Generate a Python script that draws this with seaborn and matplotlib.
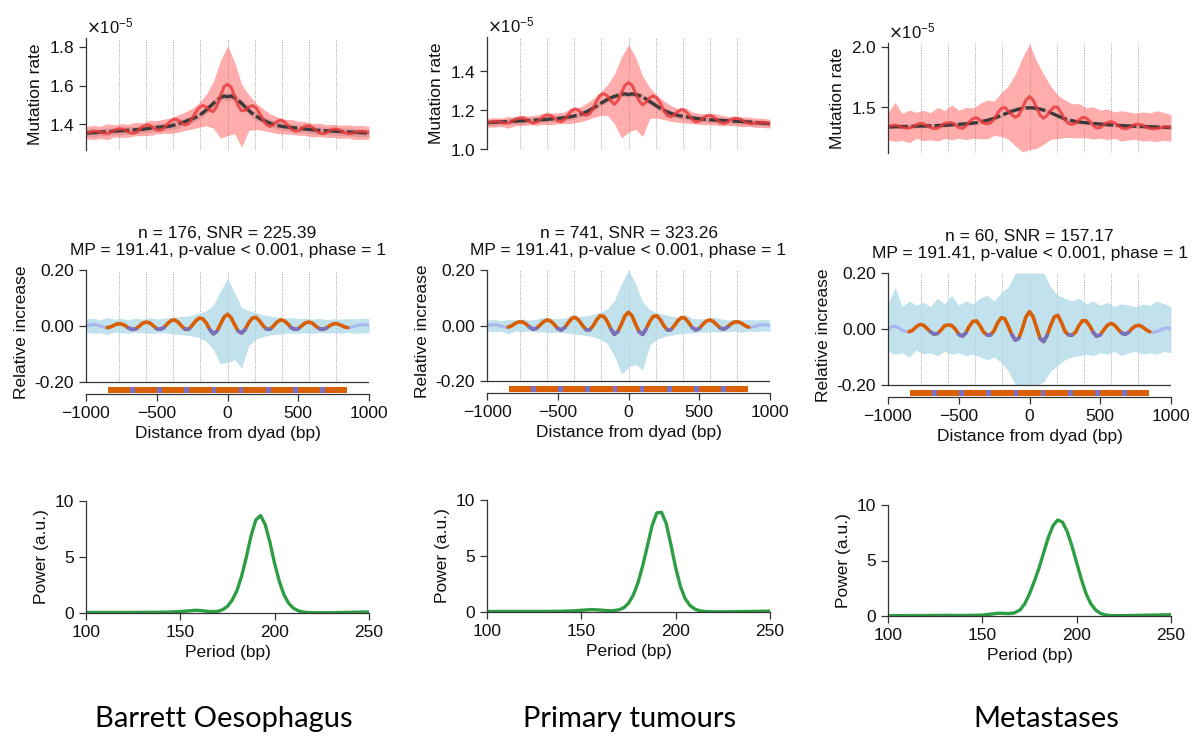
import numpy as np
import seaborn as sns
import matplotlib.pyplot as plt
from matplotlib.ticker import ScalarFormatter

# groups and stats shown in the titles
groups = ['Barrett Oesophagus', 'Primary tumours', 'Metastases']
n_samples = [176, 741, 60]
snr = [225.39, 323.26, 157.17]
mp = 191.41

# positions relative to the dyad (bp)
pos = np.arange(-1000, 1001, 25)
pos_noise = np.arange(-1000, 1001, 50)

# background (smoothed) mutation rate, x1e-5, on the 25 bp grid
bg_barrett = [1.355, 1.356, 1.357, 1.358, 1.360, 1.361, 1.362, 1.363, 1.365, 1.366,
              1.367, 1.368, 1.370, 1.371, 1.372, 1.373, 1.375, 1.377, 1.380, 1.382,
              1.385, 1.386, 1.388, 1.389, 1.392, 1.397, 1.402, 1.408, 1.414, 1.421,
              1.428, 1.436, 1.446, 1.459, 1.474, 1.491, 1.508, 1.524, 1.537, 1.546,
              1.542,
              1.546, 1.537, 1.524, 1.508, 1.490, 1.472, 1.456, 1.443, 1.432, 1.423,
              1.414, 1.406, 1.400, 1.395, 1.391, 1.388, 1.386, 1.384, 1.382, 1.380,
              1.378, 1.376, 1.374, 1.372, 1.370, 1.369, 1.368, 1.367, 1.366, 1.365,
              1.364, 1.363, 1.362, 1.361, 1.360, 1.359, 1.358, 1.357, 1.356, 1.355]
bg_primary = [1.135, 1.136, 1.137, 1.138, 1.139, 1.140, 1.141, 1.142, 1.143, 1.144,
              1.145, 1.146, 1.147, 1.148, 1.149, 1.150, 1.151, 1.152, 1.154, 1.155,
              1.157, 1.159, 1.161, 1.164, 1.167, 1.171, 1.176, 1.182, 1.190, 1.199,
              1.210, 1.221, 1.233, 1.243, 1.254, 1.263, 1.270, 1.276, 1.281, 1.283,
              1.279,
              1.283, 1.280, 1.275, 1.267, 1.256, 1.244, 1.232, 1.220, 1.209, 1.199,
              1.190, 1.183, 1.177, 1.172, 1.169, 1.166, 1.163, 1.160, 1.157, 1.155,
              1.153, 1.152, 1.150, 1.149, 1.148, 1.147, 1.146, 1.145, 1.144, 1.143,
              1.142, 1.141, 1.140, 1.139, 1.137, 1.136, 1.134, 1.133, 1.131, 1.130]
bg_metastases = [1.340, 1.340, 1.341, 1.342, 1.343, 1.343, 1.344, 1.345, 1.346, 1.347,
                 1.347, 1.348, 1.349, 1.350, 1.351, 1.352, 1.353, 1.355, 1.357, 1.359,
                 1.361, 1.363, 1.365, 1.368, 1.371, 1.375, 1.380, 1.387, 1.394, 1.402,
                 1.411, 1.422, 1.434, 1.446, 1.458, 1.469, 1.478, 1.486, 1.492, 1.496,
                 1.497,
                 1.496, 1.492, 1.486, 1.478, 1.468, 1.456, 1.443, 1.430, 1.418, 1.407,
                 1.398, 1.391, 1.385, 1.380, 1.377, 1.374, 1.371, 1.368, 1.366, 1.363,
                 1.361, 1.358, 1.356, 1.354, 1.352, 1.351, 1.349, 1.348, 1.347, 1.345,
                 1.344, 1.343, 1.342, 1.341, 1.340, 1.339, 1.338, 1.337, 1.336, 1.335]
bg_band = [0.02, 0.015, 0.015]

# smoothed relative increase, 25 bp grid
rel_barrett = [0.000, 0.003, 0.006, 0.004, 0.000, -0.004, -0.006, -0.003, 0.003, 0.008,
               0.007, 0.002, -0.007, -0.012, -0.011, -0.001, 0.010, 0.014, 0.011, 0.001,
               -0.010, -0.012, -0.006, 0.008, 0.019, 0.022, 0.014, 0.000, -0.012, -0.012,
               0.002, 0.018, 0.028, 0.026, 0.011, -0.013, -0.028, -0.019, 0.006, 0.031,
               0.042,
               0.030, 0.005, -0.018, -0.025, -0.012, 0.012, 0.028, 0.031, 0.019, 0.002,
               -0.011, -0.012, 0.000, 0.014, 0.022, 0.019, 0.008, -0.006, -0.012, -0.010,
               0.001, 0.011, 0.014, 0.010, -0.001, -0.010, -0.012, -0.007, 0.002, 0.008,
               0.008, 0.003, -0.003, -0.006, -0.005, -0.001, 0.003, 0.005, 0.004, 0.002]
rel_primary = [0.000, 0.002, 0.003, 0.002, -0.002, -0.006, -0.006, -0.001, 0.008, 0.013,
               0.013, 0.006, -0.005, -0.013, -0.010, 0.002, 0.014, 0.020, 0.016, 0.004,
               -0.011, -0.016, -0.007, 0.011, 0.026, 0.029, 0.018, 0.000, -0.015, -0.016,
               -0.001, 0.021, 0.035, 0.033, 0.015, -0.012, -0.032, -0.022, 0.005, 0.035,
               0.048,
               0.035, 0.005, -0.022, -0.032, -0.012, 0.015, 0.033, 0.035, 0.021, -0.001,
               -0.016, -0.015, 0.000, 0.018, 0.029, 0.026, 0.011, -0.007, -0.016, -0.011,
               0.004, 0.016, 0.020, 0.014, 0.002, -0.010, -0.013, -0.005, 0.006, 0.013,
               0.013, 0.008, -0.001, -0.006, -0.006, -0.002, 0.002, 0.003, 0.002, 0.000]
rel_metastases = [-0.003, 0.008, 0.010, 0.004, -0.004, -0.009, -0.010, -0.004, 0.008, 0.016,
                  0.014, 0.002, -0.010, -0.018, -0.016, -0.004, 0.012, 0.014, 0.013, 0.000,
                  -0.019, -0.026, -0.014, 0.010, 0.027, 0.029, 0.012, -0.011, -0.021, -0.021,
                  -0.006, 0.022, 0.040, 0.037, 0.010, -0.020, -0.040, -0.033, 0.002, 0.043,
                  0.062,
                  0.044, 0.005, -0.034, -0.045, -0.022, 0.014, 0.043, 0.049, 0.024, -0.008,
                  -0.021, -0.022, -0.012, 0.013, 0.030, 0.029, 0.012, -0.012, -0.026, -0.021,
                  -0.003, 0.013, 0.020, 0.014, 0.000, -0.014, -0.019, -0.012, 0.002, 0.011,
                  0.013, 0.007, -0.003, -0.010, -0.012, -0.009, -0.004, 0.002, 0.004, 0.000]

# envelope of the raw (noisy) relative increase, 50 bp grid
hi_barrett = [0.025, 0.028, 0.022, 0.030, 0.024, 0.027, 0.022, 0.028, 0.024, 0.030,
              0.025, 0.028, 0.030, 0.033, 0.035, 0.038, 0.045, 0.055, 0.075, 0.125,
              0.170,
              0.120, 0.065, 0.055, 0.048, 0.040, 0.035, 0.032, 0.028, 0.030,
              0.026, 0.028, 0.024, 0.027, 0.023, 0.026, 0.024, 0.027, 0.025, 0.028, 0.026]
lo_barrett = [-0.022, -0.026, -0.024, -0.030, -0.022, -0.025, -0.026, -0.022, -0.024, -0.027,
              -0.025, -0.024, -0.028, -0.030, -0.032, -0.036, -0.042, -0.055, -0.085, -0.135,
              -0.130,
              -0.120, -0.150, -0.070, -0.048, -0.038, -0.032, -0.030, -0.027, -0.025,
              -0.026, -0.024, -0.027, -0.023, -0.025, -0.024, -0.026, -0.023, -0.027, -0.025, -0.024]
hi_primary = [0.020, 0.022, 0.018, 0.022, 0.020, 0.024, 0.020, 0.022, 0.030, 0.026,
              0.024, 0.026, 0.040, 0.032, 0.036, 0.040, 0.048, 0.060, 0.090, 0.150,
              0.200,
              0.150, 0.085, 0.058, 0.046, 0.040, 0.034, 0.030, 0.040, 0.026,
              0.024, 0.024, 0.030, 0.024, 0.020, 0.022, 0.020, 0.022, 0.020, 0.022, 0.020]
lo_primary = [-0.020, -0.022, -0.020, -0.030, -0.020, -0.022, -0.020, -0.024, -0.022, -0.026,
              -0.024, -0.026, -0.030, -0.032, -0.036, -0.040, -0.050, -0.065, -0.110, -0.175,
              -0.150,
              -0.140, -0.160, -0.070, -0.050, -0.040, -0.035, -0.030, -0.028, -0.026,
              -0.024, -0.024, -0.022, -0.024, -0.022, -0.020, -0.024, -0.020, -0.022, -0.020, -0.020]
hi_metastases = [0.090, 0.150, 0.080, 0.100, 0.085, 0.095, 0.080, 0.110, 0.090, 0.120,
                 0.085, 0.100, 0.090, 0.110, 0.120, 0.100, 0.130, 0.150, 0.200, 0.280,
                 0.350,
                 0.260, 0.200, 0.150, 0.120, 0.110, 0.100, 0.110, 0.090, 0.100,
                 0.085, 0.095, 0.080, 0.090, 0.085, 0.080, 0.090, 0.085, 0.100, 0.090, 0.080]
lo_metastases = [-0.080, -0.090, -0.085, -0.100, -0.075, -0.090, -0.085, -0.095, -0.080, -0.090,
                 -0.085, -0.095, -0.090, -0.100, -0.110, -0.100, -0.120, -0.150, -0.200, -0.240,
                 -0.230,
                 -0.220, -0.190, -0.150, -0.130, -0.110, -0.100, -0.095, -0.090, -0.095,
                 -0.085, -0.090, -0.080, -0.095, -0.085, -0.080, -0.090, -0.085, -0.090, -0.080, -0.085]

# nucleosome-phase bar below the middle panels
bar_half = 845
trough_centers = [-670, -478, -287, -96, 96, 287, 478, 670]

# power spectra
periods = [100, 110, 120, 130, 140, 145, 150, 155, 158, 161,
           164, 167, 170, 172.5, 175, 177.5, 180, 182.5, 185, 187.5,
           190, 192.5, 195, 197.5, 200, 202.5, 205, 207.5, 210, 212.5,
           215, 217.5, 220, 225, 230, 240, 250]
power_barrett = [0.05, 0.05, 0.05, 0.06, 0.07, 0.09, 0.13, 0.20, 0.24, 0.22,
                 0.15, 0.12, 0.15, 0.30, 0.60, 1.15, 2.00, 3.30, 5.00, 6.90,
                 8.30, 8.70, 7.90, 6.30, 4.40, 2.80, 1.60, 0.85, 0.42, 0.20,
                 0.09, 0.04, 0.03, 0.02, 0.03, 0.06, 0.10]
power_primary = [0.05, 0.05, 0.05, 0.05, 0.07, 0.10, 0.15, 0.22, 0.20, 0.16,
                 0.12, 0.12, 0.20, 0.38, 0.78, 1.50, 2.60, 4.10, 5.90, 7.70,
                 8.85, 8.90, 7.90, 6.00, 3.95, 2.30, 1.20, 0.60, 0.28, 0.12,
                 0.05, 0.03, 0.02, 0.02, 0.03, 0.05, 0.08]
power_metastases = [0.03, 0.04, 0.04, 0.06, 0.05, 0.06, 0.08, 0.18, 0.25, 0.24,
                    0.22, 0.28, 0.55, 1.10, 2.00, 3.10, 4.30, 5.70, 7.10, 8.15,
                    8.65, 8.45, 7.60, 6.30, 4.80, 3.30, 2.00, 1.10, 0.55, 0.25,
                    0.10, 0.05, 0.03, 0.03, 0.05, 0.08, 0.12]

top_ticks = [[1.4, 1.6, 1.8], [1.0, 1.2, 1.4], [1.5, 2.0]]
top_ylim = [(1.268, 1.845), (1.0, 1.575), (1.125, 2.03)]

bgs = [bg_barrett, bg_primary, bg_metastases]
rels = [rel_barrett, rel_primary, rel_metastases]
his = [hi_barrett, hi_primary, hi_metastases]
los = [lo_barrett, lo_primary, lo_metastases]
powers = [power_barrett, power_primary, power_metastases]

# style
sns.set_theme(style='ticks')
ink = '#333333'
fs = 12.5
plt.rcParams['font.family'] = ['Liberation Sans', 'DejaVu Sans']
plt.rcParams.update({'axes.edgecolor': ink, 'axes.linewidth': 0.9,
                     'xtick.color': ink, 'ytick.color': ink,
                     'xtick.labelcolor': '#111111', 'ytick.labelcolor': '#111111',
                     'xtick.major.size': 5, 'ytick.major.size': 5,
                     'xtick.major.width': 0.9, 'ytick.major.width': 0.9,
                     'xtick.labelsize': fs, 'ytick.labelsize': fs,
                     'axes.labelsize': fs, 'axes.titlesize': fs,
                     'axes.labelcolor': '#111111', 'text.color': '#111111'})

W, H = 1194, 737
fig = plt.figure(figsize=(W / 100, H / 100), dpi=100)


def rect(left, top, bottom, width=283):
    return [left / W, 1 - bottom / H, width / W, (bottom - top) / H]


lefts = [86, 487, 888]
top_px = [(38, 150), (37, 149), (43, 153)]
mid_px = [(270, 394), (270, 393), (273, 397)]
bot_px = [(501, 613), (500, 612), (505, 616)]
label_x = [224, 630, 1046]
grid_kw = dict(color='#a0a0a0', lw=0.7, ls=(0, (1, 1.5)), zorder=0)

for i in range(3):
    bg = np.array(bgs[i])
    rel = np.array(rels[i])
    hi = np.array(his[i])
    lo = np.array(los[i])

    # ---- top: mutation rate around the dyad
    ax = fig.add_axes(rect(lefts[i], *top_px[i]))
    for k in range(-4, 5):
        ax.axvline(k * mp, **grid_kw)
    ax.fill_between(pos, (bg - bg_band[i]) * 1e-5, (bg + bg_band[i]) * 1e-5,
                    color='#c9c9c9', alpha=0.8, lw=0)
    ax.fill_between(pos_noise, bg[::2] * (1 + lo) * 1e-5, bg[::2] * (1 + hi) * 1e-5,
                    color='#ff5a5a', alpha=0.5, lw=0)
    sns.lineplot(x=pos, y=bg * 1e-5, ax=ax, color='#3a3a3a', linewidth=2.4,
                 linestyle=(0, (6, 1)))
    sns.lineplot(x=pos, y=bg * (1 + rel) * 1e-5, ax=ax, color='#e8383a',
                 linewidth=2.2, alpha=0.8)
    ax.set_xlim(-1000, 1000)
    ax.set_ylim(top_ylim[i][0] * 1e-5, top_ylim[i][1] * 1e-5)
    ax.set_yticks([t * 1e-5 for t in top_ticks[i]])
    fmt = ScalarFormatter(useMathText=True)
    fmt.set_powerlimits((0, 0))
    ax.yaxis.set_major_formatter(fmt)
    ax.yaxis.get_offset_text().set_fontsize(12)
    ax.set_xticks([])
    ax.set_xlabel('')
    ax.set_ylabel('Mutation rate')
    for s in ['top', 'right', 'bottom']:
        ax.spines[s].set_visible(False)

    # ---- middle: relative increase
    ax = fig.add_axes(rect(lefts[i], *mid_px[i]))
    ax.vlines([k * mp for k in range(-4, 5)], -0.2, 0.2, **grid_kw)
    ax.fill_between(pos_noise, np.clip(lo, -0.2, 0.2), np.clip(hi, -0.2, 0.2),
                    color='#add8e6', alpha=0.75, lw=0)
    sns.lineplot(x=pos, y=rel, ax=ax, color='#a9b7ee', linewidth=2.2)
    core = np.abs(pos) <= 850
    sns.lineplot(x=pos[core], y=rel[core], ax=ax, color='#d95f02', linewidth=2.6)
    for c in trough_centers:
        m = np.abs(pos - c) <= 30
        sns.lineplot(x=pos[m], y=rel[m], ax=ax, color='#7570c0', linewidth=2.6)
    ax.axhline(-0.2, color=ink, lw=0.9)
    ax.broken_barh([(-bar_half, 2 * bar_half)], (-0.2385, 0.021),
                   facecolors='#d95f02', lw=0)
    ax.broken_barh([(c - 17, 34) for c in trough_centers], (-0.2385, 0.021),
                   facecolors='#7a72c8', lw=0)
    ax.set_xlim(-1000, 1000)
    ax.set_ylim(-0.243, 0.2)
    ax.spines['left'].set_bounds(-0.2, 0.2)
    ax.spines['top'].set_visible(False)
    ax.spines['right'].set_visible(False)
    ax.set_yticks([-0.2, 0.0, 0.2])
    ax.set_yticklabels(['-0.20', '0.00', '0.20'])
    ax.set_xticks([-1000, -500, 0, 500, 1000])
    ax.set_xlabel('Distance from dyad (bp)')
    ax.set_ylabel('Relative increase')
    ax.set_title(f'n = {n_samples[i]}, SNR = {snr[i]:.2f}\n'
                 f'MP = {mp:.2f}, p-value < 0.001, phase = 1', pad=11, linespacing=1.15)

    # ---- bottom: periodogram
    ax = fig.add_axes(rect(lefts[i], *bot_px[i]))
    sns.lineplot(x=periods, y=powers[i], ax=ax, color='#2e9e44', linewidth=2.4)
    ax.set_xlim(100, 250)
    ax.set_ylim(0, 10)
    ax.set_xticks([100, 150, 200, 250])
    ax.set_yticks([0, 5, 10])
    ax.set_xlabel('Period (bp)')
    ax.set_ylabel('Power (a.u.)')
    ax.spines['top'].set_visible(False)
    ax.spines['right'].set_visible(False)

    fig.text(label_x[i] / W, 1 - 719 / H, groups[i], ha='center', va='center',
             fontsize=21, family=['Lato', 'DejaVu Sans'], color='black')

fig.savefig('out.png', dpi=100)
